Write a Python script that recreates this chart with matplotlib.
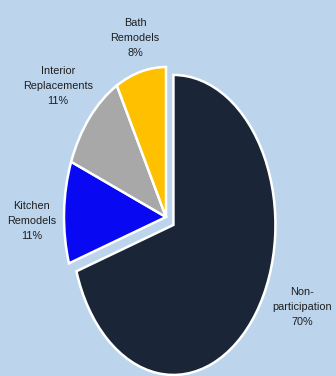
import matplotlib
matplotlib.use("Agg")
import matplotlib.pyplot as plt
from matplotlib import font_manager

# Participation breakdown
categories = ["Non-\nparticipation", "Kitchen\nRemodels", "Interior\nReplacements", "Bath\nRemodels"]
values = [70, 11, 11, 8]
colors = ["#1b2538", "#0808f2", "#a8a8a8", "#ffc000"]
explode = [0.09, 0, 0, 0]

W, H = 336, 376
bg = "#bcd5ec"

installed = {f.name for f in font_manager.fontManager.ttflist}
if "Liberation Sans Narrow" in installed:
    font, fsize = ["Liberation Sans Narrow", "DejaVu Sans"], 9.3
else:
    font, fsize = ["Liberation Sans", "DejaVu Sans"], 7.8

fig = plt.figure(figsize=(W / 100, H / 100), dpi=100, facecolor=bg)
ax = fig.add_axes([0, 0, 1, 1])
ax.set_facecolor(bg)

ax.pie(values, colors=colors, explode=explode, startangle=90, counterclock=False,
       radius=1.0, center=(0, 0),
       wedgeprops=dict(edgecolor="white", linewidth=1.8))

# Stretched (elliptical) pie: horizontal radius ~102 px, vertical ~150 px
cx, cy, rx, ry = 166, 217, 102, 150
ax.set_aspect("auto")
ax.set_xlim(-cx / rx, (W - cx) / rx)
ax.set_ylim(-(H - cy) / ry, cy / ry)
ax.axis("off")

# Label anchors in pixel positions of the middle text line
label_pos = [(302, 307), (32, 221), (58, 86), (135, 38)]
for name, v, (px, py) in zip(categories, values, label_pos):
    ax.text(px / W, 1 - py / H, f"{name}\n{v}%", transform=ax.transAxes,
            ha="center", va="center", fontsize=fsize, family=font,
            color="#1e1e1e", linespacing=1.6)

fig.savefig("out.png", dpi=100, facecolor=bg)
